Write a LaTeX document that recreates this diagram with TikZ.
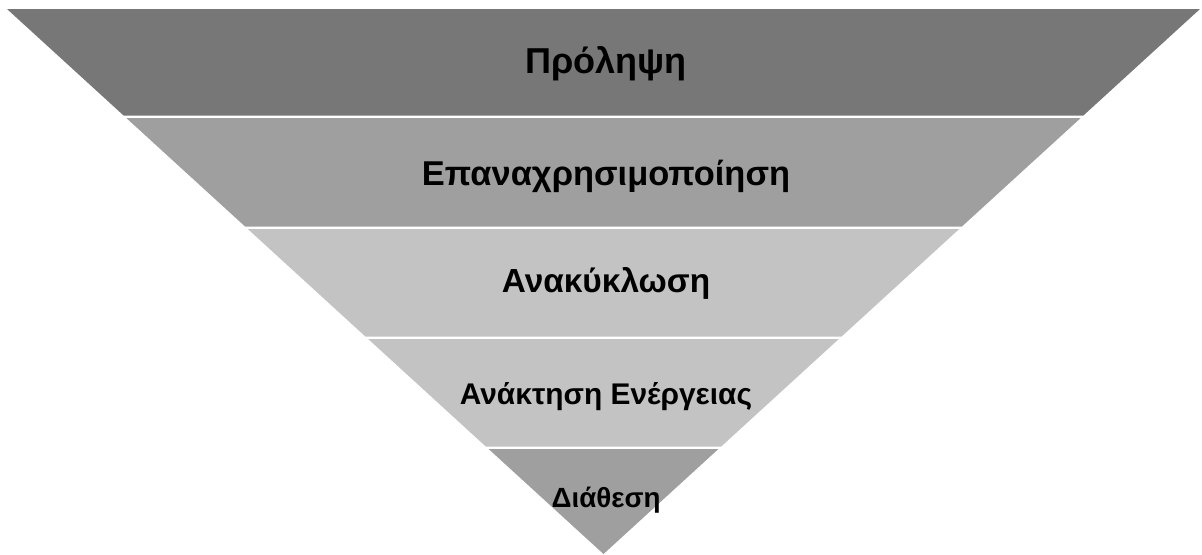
\documentclass[tikz,border=0pt]{standalone}
\usepackage{fontspec}
\setmainfont{Liberation Sans}
\definecolor{tierdark}{HTML}{777777}
\definecolor{tiermid}{HTML}{9F9F9F}
\definecolor{tierlight}{HTML}{C3C3C3}
\begin{document}
\begin{tikzpicture}[
    tier/.style={draw=none},
    tiertext/.style={font=\bfseries, anchor=base, inner sep=0pt, text=black}
]
\useasboundingbox (-6.035, -5.45) rectangle (5.985, 0.09);

% Tier 1 - Prevention
\fill[tier, tierdark] (-5.965, 0) -- (5.965, 0) -- (4.799, -1.065) -- (-4.799, -1.065) -- cycle;
\node[tiertext, font=\fontsize{10.25}{12}\selectfont\bfseries] (prevent) at (0.025, -0.64) {Πρόληψη};

% Tier 2 - Reuse
\fill[tier, tiermid] (-4.772, -1.09) -- (4.772, -1.09) -- (3.584, -2.175) -- (-3.584, -2.175) -- cycle;
\node[tiertext, font=\fontsize{9.8}{12}\selectfont\bfseries] (reuse) at (0.025, -1.76) {Επαναχρησιμοποίηση};

% Tier 3 - Recycling
\fill[tier, tierlight] (-3.557, -2.2) -- (3.557, -2.2) -- (2.381, -3.275) -- (-2.381, -3.275) -- cycle;
\node[tiertext, font=\fontsize{9.5}{11}\selectfont\bfseries] (recycle) at (0.025, -2.83) {Ανακύκλωση};

% Tier 4 - Energy recovery
\fill[tier, tierlight] (-2.353, -3.3) -- (2.353, -3.3) -- (1.177, -4.375) -- (-1.177, -4.375) -- cycle;
\node[tiertext, font=\fontsize{8.5}{10}\selectfont\bfseries] (recover) at (0.025, -3.95) {Ανάκτηση Ενέργειας};

% Tier 5 - Disposal
\fill[tier, tiermid] (-1.149, -4.4) -- (1.149, -4.4) -- (0, -5.45) -- cycle;
\node[tiertext, font=\fontsize{7.9}{9.5}\selectfont\bfseries] (dispose) at (0.025, -4.98) {Διάθεση};
\end{tikzpicture}
\end{document}
